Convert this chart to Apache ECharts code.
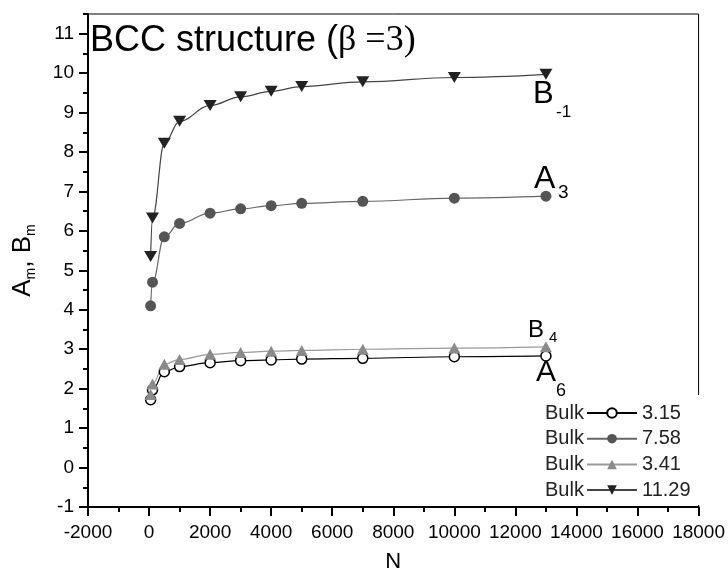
<!DOCTYPE html>
<html>
<head>
<meta charset="utf-8">
<script src="https://cdn.jsdelivr.net/npm/echarts@6.0.0/dist/echarts.min.js"></script>
<style>
  html, body { margin: 0; padding: 0; background: #fff; }
  #chart { width: 728px; height: 580px; }
</style>
</head>
<body>
<div id="chart"></div>
<script>
// 团簇尺寸 N
const nValues = [51, 113, 500, 1000, 2000, 3000, 4000, 5000, 7000, 10000, 13000];
// 各曲线数值
const a6Values = [1.72, 1.97, 2.43, 2.56, 2.66, 2.71, 2.73, 2.75, 2.77, 2.81, 2.83];
const a3Values = [4.10, 4.70, 5.85, 6.19, 6.45, 6.56, 6.64, 6.70, 6.75, 6.83, 6.88];
const b4Values = [1.85, 2.12, 2.62, 2.74, 2.87, 2.92, 2.95, 2.97, 3.00, 3.03, 3.06];
const bm1Values = [5.35, 6.33, 8.22, 8.78, 9.18, 9.40, 9.54, 9.66, 9.78, 9.89, 9.97];
// 图例
const seriesNames = ['A6', 'A3', 'B4', 'B-1'];
const bulkLabels = ['3.15', '7.58', '3.41', '11.29'];
// y 轴刻度
const yTicks = [-1, 0, 1, 2, 3, 4, 5, 6, 7, 8, 9, 10, 11];

const FONT = '"Liberation Sans", Arial, sans-serif';

function pts(values) {
  return nValues.map((n, i) => [n, values[i]]);
}

let chart = echarts.init(document.getElementById('chart'));

// 图例左侧的 "Bulk" 文字 和 曲线标注
let graphics = [
  {
    type: 'rect', z: 10,
    shape: { x: 538, y: 395, width: 166, height: 110 },
    style: { fill: '#fff' }
  }
];
bulkLabels.forEach((v, i) => {
  graphics.push({
    type: 'text', z: 20, x: 545, y: 413 + i * 25.7,
    style: { text: 'Bulk', font: '20px ' + FONT, fill: '#222', textVerticalAlign: 'middle' }
  });
});
function label(main, sub, x, y, size, sx, sy, ssize) {
  graphics.push({
    type: 'text', z: 20, x: x, y: y,
    style: { text: main, font: size + 'px ' + FONT, fill: '#000', textVerticalAlign: 'middle' }
  });
  graphics.push({
    type: 'text', z: 20, x: sx, y: sy,
    style: { text: sub, font: ssize + 'px ' + FONT, fill: '#000', textVerticalAlign: 'middle' }
  });
}
label('B', '-1', 533, 94, 31, 556, 112.5, 17);
label('A', '3', 534, 179.5, 32, 558, 193, 19);
label('B', '4', 528, 330, 24, 549, 338, 15);
label('A', '6', 536, 373, 30, 556, 391.5, 18);

chart.setOption({
  animation: false,
  textStyle: { fontFamily: FONT },
  title: {
    text: 'BCC structure ({g|β =3)}',
    left: 90,
    top: 23,
    padding: 0,
    textStyle: {
      fontSize: 36, fontWeight: 'normal', color: '#000', fontFamily: FONT, lineHeight: 36,
      rich: { g: { fontFamily: '"Liberation Serif", serif', fontSize: 36, lineHeight: 36, color: '#000' } }
    }
  },
  grid: {
    left: 86, right: 28, top: 14, bottom: 73,
    show: true, borderColor: '#000', borderWidth: 1
  },
  legend: {
    orient: 'vertical',
    left: 586,
    top: 403,
    padding: 0,
    z: 20,
    itemWidth: 50,
    itemHeight: 12,
    itemGap: 5.7,
    data: seriesNames,
    formatter: name => bulkLabels[seriesNames.indexOf(name)],
    textStyle: { fontSize: 20, lineHeight: 20, color: '#222', fontFamily: FONT }
  },
  xAxis: {
    type: 'value',
    min: -2000,
    max: 18000,
    interval: 2000,
    name: 'N',
    nameLocation: 'middle',
    nameGap: 44,
    nameTextStyle: { fontSize: 22, color: '#000' },
    axisLine: { onZero: false, lineStyle: { color: '#000', width: 2 } },
    axisTick: { length: 9, lineStyle: { color: '#000', width: 2 } },
    minorTick: { show: true, splitNumber: 2, length: 5, lineStyle: { color: '#000', width: 2 } },
    splitLine: { show: false },
    axisLabel: { fontSize: 19, margin: 16, color: '#000', formatter: v => String(v) }
  },
  yAxis: [
    {
      type: 'value',
      min: -1,
      max: 11.5,
      name: 'A{s|m}, B{s|m}',
      nameLocation: 'middle',
      nameGap: 50,
      nameTextStyle: {
        fontSize: 26, lineHeight: 30, color: '#000',
        rich: { s: { fontSize: 14, lineHeight: 10, verticalAlign: 'bottom', color: '#000' } }
      },
      axisLine: { onZero: false, lineStyle: { color: '#000', width: 2 } },
      axisTick: { length: 9, customValues: yTicks, lineStyle: { color: '#000', width: 2 } },
      splitLine: { show: false },
      axisLabel: { fontSize: 19, margin: 14, color: '#000', customValues: yTicks }
    },
    {
      // 半格刻度
      type: 'value',
      min: -1,
      max: 11.5,
      interval: 0.5,
      position: 'left',
      axisLine: { show: false, onZero: false },
      axisTick: { length: 5, lineStyle: { color: '#000', width: 2 } },
      axisLabel: { show: false },
      splitLine: { show: false }
    }
  ],
  series: [
    {
      name: 'A6', type: 'line', data: pts(a6Values),
      smooth: 0.4, smoothMonotone: 'x',
      symbol: 'circle', symbolSize: 10,
      itemStyle: { color: '#fff', borderColor: '#000', borderWidth: 1.5 },
      lineStyle: { color: '#000', width: 1.2 }
    },
    {
      name: 'B4', type: 'line', data: pts(b4Values),
      smooth: 0.4, smoothMonotone: 'x',
      symbol: 'triangle', symbolSize: [12, 11],
      itemStyle: { color: '#8a8a8a' },
      lineStyle: { color: '#9a9a9a', width: 1.2 }
    },
    {
      name: 'A3', type: 'line', data: pts(a3Values),
      smooth: 0.4, smoothMonotone: 'x',
      symbol: 'circle', symbolSize: 11,
      itemStyle: { color: '#555' },
      lineStyle: { color: '#666', width: 1.2 }
    },
    {
      name: 'B-1', type: 'line', data: pts(bm1Values),
      smooth: 0.4, smoothMonotone: 'x',
      symbol: 'triangle', symbolSize: [13, 11], symbolRotate: 180,
      itemStyle: { color: '#222' },
      lineStyle: { color: '#444', width: 1.2 }
    }
  ],
  graphic: graphics
});
</script>
</body>
</html>
